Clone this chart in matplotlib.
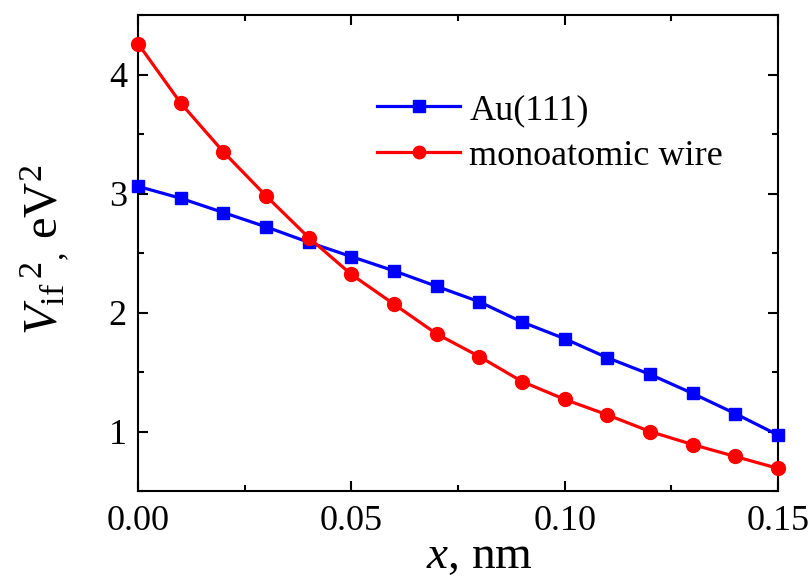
import numpy as np
import matplotlib.pyplot as plt
from matplotlib.ticker import MultipleLocator

plt.rcParams['font.family'] = 'Liberation Serif'
plt.rcParams['mathtext.fontset'] = 'custom'
plt.rcParams['mathtext.rm'] = 'Liberation Serif'
plt.rcParams['mathtext.it'] = 'Liberation Serif:italic'

# data
x = [0.00, 0.01, 0.02, 0.03, 0.04, 0.05, 0.06, 0.07,
     0.08, 0.09, 0.10, 0.11, 0.12, 0.13, 0.14, 0.15]
au111 = [3.06, 2.96, 2.84, 2.72, 2.59, 2.47, 2.35, 2.22,
         2.09, 1.92, 1.78, 1.62, 1.48, 1.32, 1.15, 0.97]
wire = [4.26, 3.76, 3.35, 2.98, 2.63, 2.32, 2.07, 1.82,
        1.63, 1.42, 1.27, 1.14, 1.00, 0.89, 0.79, 0.69]

fig = plt.figure(figsize=(8.12, 5.81), dpi=100)
ax = fig.add_axes([138 / 812, 1 - 491 / 581, 640 / 812, 476 / 581])

ax.plot(x, au111, color='#0000FF', lw=2.3, marker='s', ms=9,
        label='Au(111)', clip_on=False, zorder=3)
ax.plot(x, wire, color='#FF0000', lw=2.3, marker='o', ms=10,
        label='monoatomic wire', clip_on=False, zorder=4)

ax.set_xlim(0, 0.15)
ax.set_ylim(0.5, 4.5)
ax.xaxis.set_major_locator(MultipleLocator(0.05))
ax.xaxis.set_minor_locator(MultipleLocator(0.025))
ax.yaxis.set_major_locator(MultipleLocator(1))
ax.yaxis.set_minor_locator(MultipleLocator(0.5))
ax.xaxis.set_major_formatter(plt.FormatStrFormatter('%.2f'))

ax.tick_params(which='both', direction='in', top=True, right=True,
               width=1.5, labelsize=26)
ax.tick_params(axis='x', pad=10)
ax.tick_params(axis='y', pad=8)
ax.tick_params(which='major', length=7)
ax.tick_params(which='minor', length=4)
for s in ax.spines.values():
    s.set_linewidth(1.5)

ax.set_xlabel(r'$x$, nm', fontsize=34)
ax.set_ylabel(r'$V_{\rm if}{}^{\,2}{}_{,}$ eV$^2$', fontsize=35)
ax.xaxis.set_label_coords(0.534, -0.093)
ax.yaxis.set_label_coords(-0.105, 0.506)

ax.legend(loc='upper left', bbox_to_anchor=(0.351, 0.865), frameon=False,
          fontsize=26, handlelength=2.3, handletextpad=0.25,
          labelspacing=0.35, markerscale=0.9, borderaxespad=0)

plt.savefig('out.png', dpi=100)
